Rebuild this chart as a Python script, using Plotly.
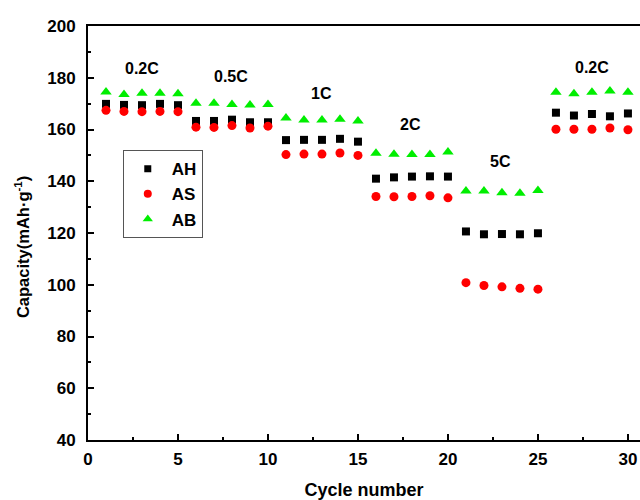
import plotly.graph_objects as go

# Cycle index for the rate test (5 cycles per current rate)
cycles = list(range(1, 31))

# Discharge capacities, mAh/g
ah_capacity = [169.9, 169.5, 169.4, 169.9, 169.4,
               163.3, 163.3, 163.8, 162.8, 162.8,
               155.9, 156.0, 156.0, 156.4, 155.3,
               141.0, 141.5, 141.8, 141.9, 141.8,
               120.6, 119.5, 119.6, 119.5, 119.9,
               166.5, 165.4, 166.0, 165.1, 166.2]
as_capacity = [167.4, 167.0, 166.9, 167.0, 166.9,
               160.9, 160.8, 161.5, 160.6, 161.3,
               150.3, 150.5, 150.5, 150.9, 150.0,
               134.1, 134.0, 134.1, 134.4, 133.6,
               100.8, 99.7, 99.2, 98.6, 98.3,
               160.1, 160.1, 160.1, 160.6, 159.9]
ab_capacity = [174.5, 173.5, 174.0, 174.0, 173.8,
               170.1, 170.1, 169.7, 169.5, 169.7,
               164.4, 163.7, 163.7, 164.0, 163.3,
               150.8, 150.4, 150.3, 150.3, 151.3,
               136.2, 136.2, 135.6, 135.4, 136.4,
               174.4, 173.8, 174.4, 174.9, 174.4]

# Current-rate labels and where they sit (cycle, capacity)
rate_labels = ["0.2C", "0.5C", "1C", "2C", "5C", "0.2C"]
rate_label_x = [3.0, 7.95, 13.0, 17.9, 22.9, 28.0]
rate_label_y = [183.6, 180.4, 174.0, 162.0, 147.6, 183.8]

FONT = "Liberation Sans"

series = [
    ("AH", ah_capacity, "square", 8, 7, "black"),
    ("AS", as_capacity, "circle", 9, 8, "#ff0000"),
    ("AB", ab_capacity, "triangle-up", 10, 9, "#00ee00"),
]

fig = go.Figure()
for name, vals, sym, size, leg_size, col in series:
    fig.add_trace(go.Scatter(x=cycles, y=vals, mode="markers", name=name,
                             showlegend=False, legendgroup=name,
                             marker=dict(symbol=sym, size=size, color=col)))
for name, vals, sym, size, leg_size, col in series:
    # empty proxy traces give the legend its own, smaller symbols
    fig.add_trace(go.Scatter(x=[None], y=[None], mode="markers", name=name,
                             legendgroup=name,
                             marker=dict(symbol=sym, size=leg_size, color=col)))

for txt, lx, ly in zip(rate_labels, rate_label_x, rate_label_y):
    fig.add_annotation(x=lx, y=ly, text=f"<b>{txt}</b>", showarrow=False,
                       font=dict(family=FONT, size=16, color="black"))

# y-axis title placed as a rotated annotation
fig.add_annotation(xref="paper", yref="paper", x=-0.1196, y=0.466,
                   text="<b>Capacity(mAh·g<sup>-1</sup>)</b>", textangle=-90,
                   showarrow=False, xanchor="center", yanchor="middle",
                   font=dict(family=FONT, size=16.5, color="black"))

axis_common = dict(
    showgrid=False, zeroline=False,
    showline=True, linecolor="black", linewidth=2,
    ticks="inside", ticklen=6, tickwidth=1.5, tickcolor="black",
    tickfont=dict(family=FONT, size=17, color="black", weight="bold"),
)

fig.update_xaxes(
    range=[0, 30.67], dtick=5, tick0=0, mirror=True,
    ticklabelstandoff=3,
    minor=dict(dtick=2.5, ticks="inside", ticklen=3, tickwidth=1.5, tickcolor="black"),
    title=dict(text="<b>Cycle number</b>", standoff=17,
               font=dict(family=FONT, size=18, color="black")),
    **axis_common,
)
fig.update_yaxes(
    range=[40, 200], dtick=20, tick0=40, mirror=False,
    ticklabelstandoff=7,
    minor=dict(dtick=10, ticks="inside", ticklen=3, tickwidth=1.5, tickcolor="black"),
    **axis_common,
)

fig.update_layout(
    width=640, height=500,
    margin=dict(l=88, r=0, t=26, b=60),
    paper_bgcolor="white", plot_bgcolor="white",
    showlegend=True,
    legend=dict(x=0.063, y=0.70, xanchor="left", yanchor="top",
                bordercolor="#555555", borderwidth=1, bgcolor="white",
                font=dict(family=FONT, size=17, color="black", weight="bold"),
                itemwidth=38, tracegroupgap=0),
)

fig.write_html("out.html")
